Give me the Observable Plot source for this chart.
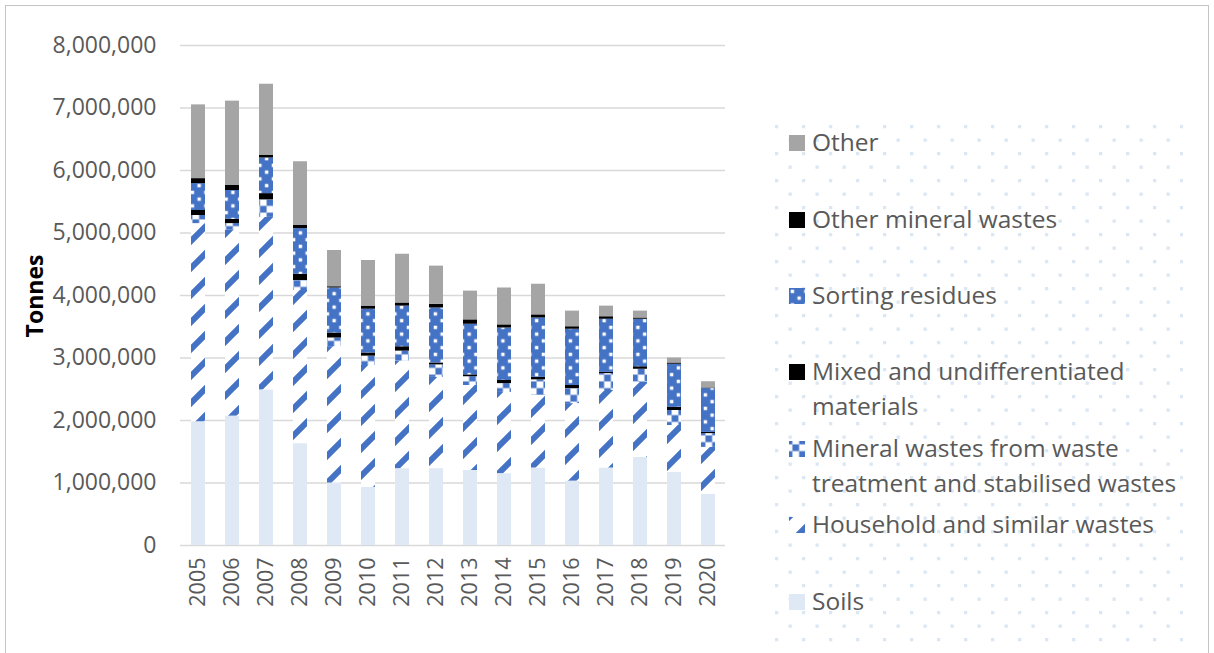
<!DOCTYPE html>
<html>
<head>
<meta charset="utf-8">
<script src="https://cdn.jsdelivr.net/npm/d3@7"></script>
<script src="https://cdn.jsdelivr.net/npm/@observablehq/plot@0.6"></script>
<style>
  html, body { margin: 0; padding: 0; background: #fff; }
  body { width: 1214px; height: 653px; position: relative; overflow: hidden; font-family: "Open Sans", sans-serif; }
  #chart { position: absolute; left: 0; top: 0; }
  #frame { position: absolute; left: 5px; top: 5px; width: 1202px; height: 700px; border: 1px solid #c4c4c4; pointer-events: none; }
  #ylabel { position: absolute; left: 34px; top: 296px; transform: translate(-50%, -50%) rotate(-90deg); font-weight: bold; font-size: 23px; color: #000; white-space: nowrap; }
  #legend { position: absolute; left: 775px; top: 119px; width: 408px; height: 524px;
    background-image: url("data:image/svg+xml,%3Csvg xmlns='http://www.w3.org/2000/svg' width='27' height='27'%3E%3Crect x='0' y='0' width='3.3' height='3.3' fill='%23dce7f4'/%3E%3Crect x='13.5' y='13.5' width='3.3' height='3.3' fill='%23dce7f4'/%3E%3C/svg%3E");
    background-size: 27px 27px; background-position: 0px 6px; }
  .item { position: absolute; left: 14px; font-size: 24.5px; line-height: 35px; color: #595959; white-space: nowrap; }
  .item svg { position: absolute; left: 0; }
  .item .txt { position: absolute; left: 23px; top: 0; }
</style>
</head>
<body>
<div id="chart"></div>
<div id="ylabel">Tonnes</div>
<div id="legend"></div>
<div id="frame"></div>
<script>
const years = ["2005","2006","2007","2008","2009","2010","2011","2012","2013","2014","2015","2016","2017","2018","2019","2020"];
const seriesNames = [
  "Soils",
  "Household and similar wastes",
  "Mineral wastes from waste treatment and stabilised wastes",
  "Mixed and undifferentiated materials",
  "Sorting residues",
  "Other mineral wastes",
  "Other"
];
const soils      = [1980000,2070000,2490000,1630000,1000000, 930000,1230000,1230000,1200000,1150000,1240000,1030000,1240000,1410000,1170000, 820000];
const household  = [3170000,2980000,2760000,2450000,2180000,1950000,1720000,1460000,1360000,1300000,1160000,1240000,1240000,1200000, 750000, 750000];
const mineralWT  = [ 130000, 100000, 280000, 160000, 140000, 150000, 160000, 200000, 140000, 140000, 250000, 240000, 270000, 210000, 240000, 220000];
const mixed      = [  80000,  70000, 100000, 100000,  80000,  50000,  70000,  30000,  30000,  50000,  40000,  50000,  20000,  40000,  50000,  20000];
const sorting    = [ 430000, 460000, 570000, 730000, 720000, 700000, 650000, 880000, 810000, 840000, 950000, 900000, 850000, 760000, 690000, 700000];
const otherMin   = [  80000,  80000,  40000,  50000,  20000,  50000,  50000,  60000,  70000,  50000,  50000,  40000,  40000,  20000,  20000,  10000];
const other      = [1180000,1350000,1140000,1020000, 580000, 730000, 780000, 610000, 460000, 590000, 490000, 250000, 170000, 110000,  80000, 100000];
const yTicks = [0,1000000,2000000,3000000,4000000,5000000,6000000,7000000,8000000];
const legendLines = [
  ["Other"],
  ["Other mineral wastes"],
  ["Sorting residues"],
  ["Mixed and undifferentiated", "materials"],
  ["Mineral wastes from waste", "treatment and stabilised wastes"],
  ["Household and similar wastes"],
  ["Soils"]
];

const seriesValues = [soils, household, mineralWT, mixed, sorting, otherMin, other];
const fills = ["#dee9f5", "url(#pHH)", "url(#pMW)", "#000000", "url(#pSR)", "#000000", "#a5a5a5"];

const data = [];
seriesNames.forEach((s, si) => {
  years.forEach((y, yi) => data.push({year: y, series: s, value: seriesValues[si][yi]}));
});

const c = 3.375;
const defsHtml = `
  <pattern id="pSR" width="13.5" height="13.5" patternUnits="userSpaceOnUse">
    <rect width="13.5" height="13.5" fill="#4472c4"/>
    <rect x="1.7" y="1.7" width="3.4" height="3.4" fill="#fff"/>
    <rect x="8.45" y="8.45" width="3.4" height="3.4" fill="#fff"/>
  </pattern>
  <pattern id="pMW" width="13.5" height="13.5" patternUnits="userSpaceOnUse">
    <rect width="13.5" height="13.5" fill="#fff"/>
    ${[[0,0],[1,1],[2,2],[3,3],[3,0],[2,1],[1,2],[0,3]].map(([i,j]) => `<rect x="${i*c}" y="${j*c}" width="${c}" height="${c}" fill="#4472c4"/>`).join("")}
  </pattern>
  <pattern id="pHH" width="27" height="27" patternUnits="userSpaceOnUse">
    <rect width="27" height="27" fill="#fff"/>
    <path d="M-4,31 L31,-4 M-4,4 L4,-4 M23,31 L31,23" stroke="#4472c4" stroke-width="6" fill="none"/>
  </pattern>`;

const plot = Plot.plot({
  width: 760,
  height: 653,
  marginLeft: 180,
  marginRight: 35,
  marginTop: 45,
  marginBottom: 108,
  style: {fontFamily: "'Open Sans', sans-serif", fontSize: "21px", color: "#595959", background: "transparent"},
  x: {domain: years, paddingInner: 0.6, paddingOuter: 0.3, label: null},
  y: {domain: [0, 8000000], label: null},
  color: {type: "ordinal", domain: seriesNames, range: fills},
  marks: [
    Plot.gridY(yTicks, {stroke: "#d9d9d9", strokeOpacity: 1, strokeWidth: 1.6}),
    Plot.barY(data, {x: "year", y: "value", fill: "series", order: seriesNames}),
    Plot.axisY({ticks: yTicks, tickSize: 0, tickPadding: 24, tickFormat: d3.format(","), label: null, fontSize: 23}),
    Plot.axisX({tickRotate: -90, tickSize: 0, tickPadding: 12, label: null, fontSize: 21.5})
  ]
});
d3.select(plot).insert("defs", ":first-child").html(defsHtml);
document.getElementById("chart").appendChild(plot);

// legend
const legend = document.getElementById("legend");
const legendCenters = [141, 218, 294, 370, 447, 523, 600];
const legendFills = fills.slice().reverse();
legendLines.forEach((lines, i) => {
  const div = document.createElement("div");
  div.className = "item";
  const top = legendCenters[i] - 17.5 - 119;
  div.style.top = top + "px";
  const sw = `<svg width="16" height="16" style="top:${17.5 - 6}px"><rect width="16" height="16" fill="${legendFills[i]}"/></svg>`;
  div.innerHTML = sw + `<div class="txt">${lines.join("<br>")}</div>`;
  legend.appendChild(div);
});
</script>
</body>
</html>
